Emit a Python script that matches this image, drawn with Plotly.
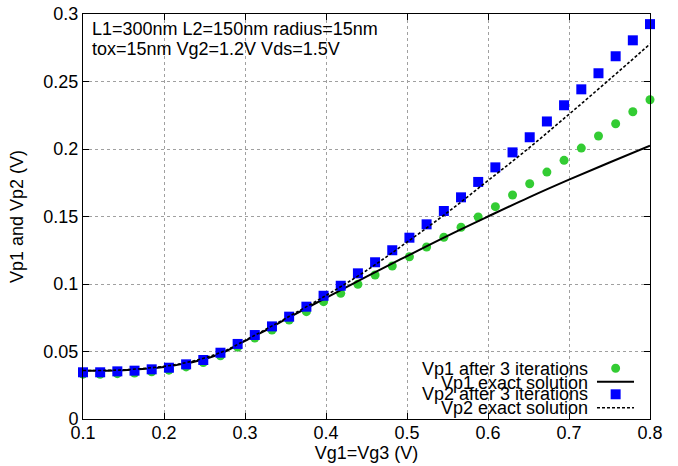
import plotly.graph_objects as go

# Gate voltage sweep Vg1 = Vg3 (V)
vg = [0.1000, 0.1212, 0.1424, 0.1636, 0.1848, 0.2061, 0.2273, 0.2485, 0.2697, 0.2909,
      0.3121, 0.3333, 0.3545, 0.3758, 0.3970, 0.4182, 0.4394, 0.4606, 0.4818, 0.5030,
      0.5242, 0.5455, 0.5667, 0.5879, 0.6091, 0.6303, 0.6515, 0.6727, 0.6939, 0.7152,
      0.7364, 0.7576, 0.7788, 0.8000]

# Iterative results (3 iterations)
vp1_iter = [0.0332, 0.0331, 0.0336, 0.0341, 0.0350, 0.0362, 0.0386, 0.0418, 0.0468, 0.0532,
            0.0600, 0.0659, 0.0733, 0.0795, 0.0869, 0.0931, 0.0998, 0.1067, 0.1133, 0.1202,
            0.1274, 0.1346, 0.1420, 0.1496, 0.1573, 0.1659, 0.1743, 0.1829, 0.1916, 0.2007,
            0.2096, 0.2187, 0.2276, 0.2365]
vp2_iter = [0.0346, 0.0346, 0.0353, 0.0358, 0.0368, 0.0380, 0.0405, 0.0437, 0.0491, 0.0556,
            0.0622, 0.0686, 0.0758, 0.0832, 0.0913, 0.0987, 0.1079, 0.1161, 0.1250, 0.1343,
            0.1442, 0.1541, 0.1642, 0.1756, 0.1864, 0.1975, 0.2087, 0.2204, 0.2324, 0.2442,
            0.2561, 0.2687, 0.2805, 0.2925]

# Exact solutions
vg_exact = [0.1, 0.15, 0.2, 0.225, 0.25, 0.275, 0.3, 0.325, 0.35, 0.4, 0.45, 0.5,
            0.55, 0.6, 0.65, 0.7, 0.75, 0.8]
vp1_exact = [0.0357, 0.0362, 0.0385, 0.0410, 0.0443, 0.0497, 0.0578, 0.0655, 0.0738, 0.0898,
             0.1055, 0.1207, 0.1357, 0.1500, 0.1640, 0.1773, 0.1900, 0.2025]
vp2_exact = [0.0359, 0.0364, 0.0390, 0.0415, 0.0452, 0.0505, 0.0582, 0.0662, 0.0745, 0.0915,
             0.1100, 0.1310, 0.1530, 0.1766, 0.2005, 0.2257, 0.2515, 0.2778]

legend_labels = ["Vp1 after 3 iterations", "Vp1 exact solution",
                 "Vp2 after 3 iterations", "Vp2 exact solution"]

FONT = "Liberation Sans, Arial, Helvetica, sans-serif"
FS = 18
GREEN = "#33cc33"
BLUE = "#0000ff"

fig = go.Figure()
fig.add_trace(go.Scatter(x=vg, y=vp1_iter, mode="markers",
                         marker=dict(symbol="circle", size=9, color=GREEN),
                         showlegend=False, cliponaxis=False))
fig.add_trace(go.Scatter(x=vg_exact, y=vp1_exact, mode="lines", line_shape="spline",
                         line=dict(color="black", width=2), showlegend=False))
fig.add_trace(go.Scatter(x=vg, y=vp2_iter, mode="markers",
                         marker=dict(symbol="square", size=10, color=BLUE),
                         showlegend=False, cliponaxis=False))
fig.add_trace(go.Scatter(x=vg_exact, y=vp2_exact, mode="lines", line_shape="spline",
                         line=dict(color="black", width=1.6, dash="3px,2px"),
                         showlegend=False))

axis_common = dict(
    showgrid=True, gridcolor="#a0a0a0", griddash="dot", gridwidth=1,
    showline=True, linecolor="black", linewidth=1, mirror="allticks",
    ticks="inside", ticklen=6, tickcolor="black",
    tickfont=dict(family=FONT, size=FS, color="black"),
    zeroline=False, automargin=False,
)

fig.update_layout(
    width=678, height=466,
    margin=dict(l=83, r=28, t=14, b=47, pad=0),
    plot_bgcolor="white", paper_bgcolor="white",
    font=dict(family=FONT, size=FS, color="black"),
    xaxis=dict(range=[0.1, 0.8], tick0=0.1, dtick=0.1, ticklabelstandoff=-3,
               title=dict(text="Vg1=Vg3 (V)", font=dict(family=FONT, size=FS), standoff=0),
               **axis_common),
    yaxis=dict(range=[0, 0.3], tick0=0, dtick=0.05,
               title=dict(text="Vp1 and Vp2 (V)", font=dict(family=FONT, size=FS), standoff=15),
               **axis_common),
)

# Parameter text in the upper left corner
fig.add_annotation(x=0.012, y=0.962, xref="paper", yref="paper", xanchor="left",
                   yanchor="middle", showarrow=False,
                   text="L1=300nm L2=150nm radius=15nm", font=dict(family=FONT, size=FS))
fig.add_annotation(x=0.012, y=0.914, xref="paper", yref="paper", xanchor="left",
                   yanchor="middle", showarrow=False,
                   text="tox=15nm Vg2=1.2V Vds=1.5V", font=dict(family=FONT, size=FS))

# Key in the lower right corner
key_y = [0.1227, 0.0896, 0.0617, 0.0279]
for label, yy in zip(legend_labels, key_y):
    fig.add_annotation(x=0.895, y=yy, xref="paper", yref="paper", xanchor="right",
                       yanchor="middle", showarrow=False, text=label,
                       font=dict(family=FONT, size=FS))

sx0, sx1 = 0.9065, 0.9718
cx = 0.9394
fig.add_shape(type="circle", xref="paper", yref="paper",
              x0=cx - 0.0079, x1=cx + 0.0079, y0=0.1252 - 0.0111, y1=0.1252 + 0.0111,
              fillcolor=GREEN, line=dict(width=0))
fig.add_shape(type="line", xref="paper", yref="paper", x0=sx0, x1=sx1, y0=0.0921, y1=0.0921,
              line=dict(color="black", width=2))
fig.add_shape(type="rect", xref="paper", yref="paper",
              x0=cx - 0.0088, x1=cx + 0.0088, y0=0.0610 - 0.0123, y1=0.0610 + 0.0123,
              fillcolor=BLUE, line=dict(width=0))
fig.add_shape(type="line", xref="paper", yref="paper", x0=sx0, x1=sx1, y0=0.0279, y1=0.0279,
              line=dict(color="black", width=1.6, dash="3px,2px"))

fig.write_html("out.html")
